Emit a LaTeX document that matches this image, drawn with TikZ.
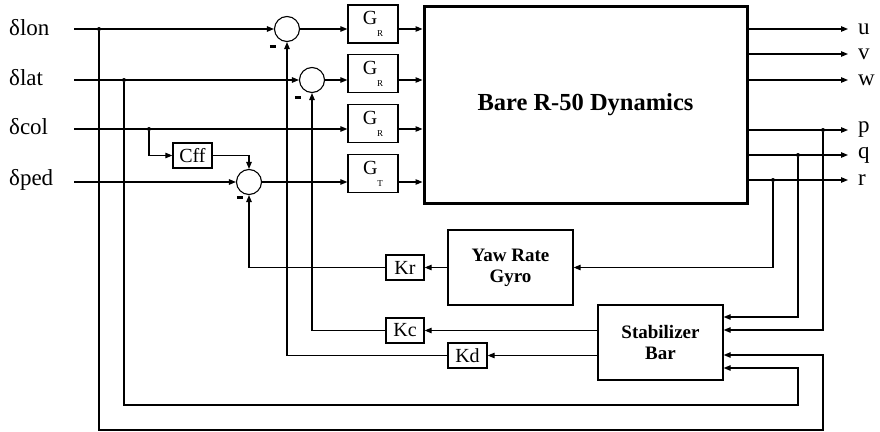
\documentclass[tikz,border=0pt]{standalone}
\usepackage{fontspec}
\setmainfont{Liberation Serif}
\usetikzlibrary{arrows.meta,positioning,calc}
\tikzset{blk/.style={draw,line width=1.3pt,inner sep=0pt,font=\fontsize{20}{22}\selectfont},
  sumc/.style={draw,circle,line width=1.1pt,minimum size=25pt,inner sep=0pt},
  sig/.style={-{Triangle[length=7pt,width=5.5pt]},line width=1.1pt},
  io/.style={inner sep=0pt,font=\fontsize{23}{25}\selectfont},
  dot/.style={circle,fill,inner sep=0pt,minimum size=4pt},
  minus/.style={inner sep=0pt}}
\newcommand{\gsub}[1]{G\raisebox{-12pt}{\fontsize{9}{9}\selectfont #1}}

\begin{document}
\begin{tikzpicture}[x=1pt,y=-1pt]
\useasboundingbox (0,0) rectangle (880,431);
% inputs
\node[io,anchor=west] (lon) at (9,28) {δlon};
\node[io,anchor=west] (lat) at (9,78) {δlat};
\node[io,anchor=west] (col) at (9,127) {δcol};
\node[io,anchor=west] (ped) at (9,180) {δped};
\coordinate (ilon) at (74,29);\coordinate (ilat) at (74,80);
\coordinate (icol) at (74,129);\coordinate (iped) at (74,182);
\node[dot] (dlon) at (99,29) {};
\node[dot] (dlat) at (124,80) {};
\node[dot] (dcol) at (149,129) {};
% summing points
\node[sumc] (slon) at (287,29) {};
\node[sumc] (slat) at (312,80) {};
\node[sumc] (sped) at (249,182) {};
\node[minus] at (273,46) {\rule{6.5pt}{3pt}};
\node[minus] at (298,97) {\rule{6.5pt}{3pt}};
\node[minus] at (240,197) {\rule{6.5pt}{3pt}};
% actuator blocks
\node[blk,minimum width=50pt,minimum height=38pt] (glon) at (373,24) {\gsub{R}};
\node[blk,minimum width=50pt,minimum height=38pt] (glat) at (373,73.5) {\gsub{R}};
\node[blk,minimum width=50pt,minimum height=38pt] (gcol) at (373,123.5) {\gsub{R}};
\node[blk,minimum width=50pt,minimum height=38pt] (gped) at (373,173.5) {\gsub{T}};
\node[blk,minimum width=39pt,minimum height=25pt] (cff) at (192.5,155.5) {Cff};
\node[draw,line width=3pt,minimum width=323pt,minimum height=197pt,
  font=\fontsize{24.5}{26}\selectfont\bfseries] (bare) at (585.5,104.5) {Bare R-50 Dynamics};
% feedback blocks
\node[blk,minimum width=125pt,minimum height=75pt,align=center,
  font=\fontsize{19}{21}\selectfont\bfseries] (gyro) at (510.5,267.5) {Yaw Rate\\Gyro};
\node[blk,minimum width=125pt,minimum height=75pt,align=center,
  font=\fontsize{19}{21}\selectfont\bfseries] (stab) at (660.5,342.5) {Stabilizer\\Bar};
\node[blk,minimum width=38pt,minimum height=25pt] (kr) at (405,267.5) {Kr};
\node[blk,minimum width=38pt,minimum height=25pt] (kc) at (405,330.5) {Kc};
\node[blk,minimum width=39pt,minimum height=25pt] (kd) at (467.5,355.5) {Kd};
% outputs
\foreach \n/\y in {u/29,v/54,w/80,p/130,q/155,r/180}{
  \coordinate (o\n) at (848,\y);
  \node[io,right=10pt of o\n] (l\n) {\n};
  \draw[sig] (bare.east |- o\n) -- (o\n);}
\node[dot] (dp) at (823,130) {};
\node[dot] (dq) at (798,155) {};
\node[dot] (dr) at (773,180) {};
\coordinate (blon) at (823,430);\coordinate (blat) at (798,405);
% forward paths
\draw[sig] (ilon) -- (slon);\draw[sig] (ilat) -- (slat);\draw[sig] (iped) -- (sped);
\draw[sig] (icol) -- (gcol.west |- icol);
\draw[sig] (slon) -- (glon.west |- slon);\draw[sig] (slat) -- (glat.west |- slat);
\draw[sig] (sped) -- (gped.west |- sped);
\draw[sig] (dcol) |- (cff.west);\draw[sig] (cff.east) -| (sped.north);
\draw[sig] (glon.east |- ilon) -- (bare.west |- ilon);
\draw[sig] (glat.east |- ilat) -- (bare.west |- ilat);
\draw[sig] (gcol.east |- icol) -- (bare.west |- icol);
\draw[sig] (gped.east |- iped) -- (bare.west |- iped);
% feedback paths
\draw[sig] (dr) |- (gyro.east);\draw[sig] (gyro.west) -- (kr.east);
\draw[sig] (kr.west) -| (sped.south);
\draw[sig] (stab.west |- kc) -- (kc.east);\draw[sig] (kc.west) -| (slat.south);
\draw[sig] (stab.west |- kd) -- (kd.east);\draw[sig] (kd.west) -| (slon.south);
\draw[sig] (dq) |- ($(stab.east)+(0,-25.5)$);
\draw[sig] (dp) |- ($(stab.east)+(0,-12.5)$);
\draw[sig] (dlon) |- (blon) |- ($(stab.east)+(0,12.5)$);
\draw[sig] (dlat) |- (blat) |- ($(stab.east)+(0,25.5)$);
\end{tikzpicture}
\end{document}
